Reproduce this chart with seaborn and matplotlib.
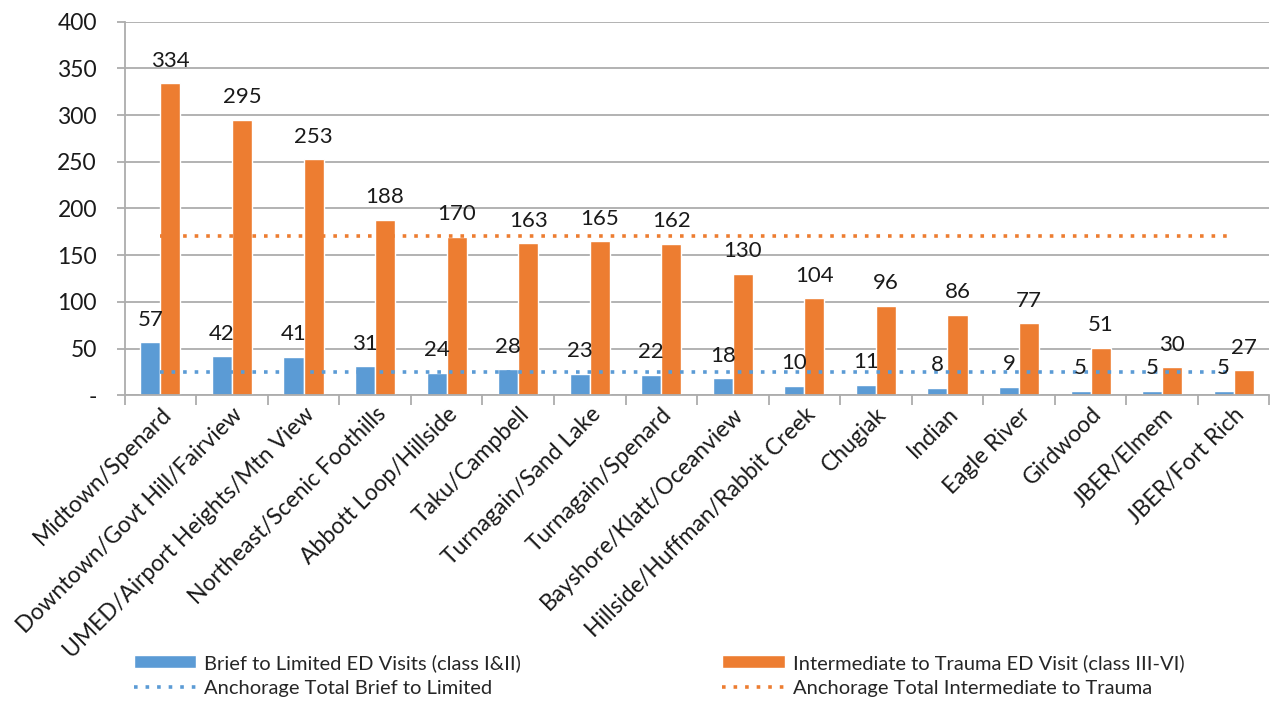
import numpy as np
import pandas as pd
import seaborn as sns
import matplotlib.pyplot as plt

regions = ['Midtown/Spenard', 'Downtown/Govt Hill/Fairview', 'UMED/Airport Heights/Mtn View',
           'Northeast/Scenic Foothills', 'Abbott Loop/Hillside', 'Taku/Campbell',
           'Turnagain/Sand Lake', 'Turnagain/Spenard', 'Bayshore/Klatt/Oceanview',
           'Hillside/Huffman/Rabbit Creek', 'Chugiak', 'Indian', 'Eagle River',
           'Girdwood', 'JBER/Elmem', 'JBER/Fort Rich']
brief = [57, 42, 41, 31, 24, 28, 23, 22, 18, 10, 11, 8, 9, 5, 5, 5]
inter = [334, 295, 253, 188, 170, 163, 165, 162, 130, 104, 96, 86, 77, 51, 30, 27]
anch_brief = 25
anch_inter = 171

s_brief = 'Brief to Limited ED Visits (class I&II)'
s_inter = 'Intermediate to Trauma ED Visit (class III-VI)'
l_brief = 'Anchorage Total Brief to Limited'
l_inter = 'Anchorage Total Intermediate to Trauma'

blue = '#5B9BD5'
orange = '#ED7D31'

df = pd.DataFrame({
    'region': regions * 2,
    'visits': brief + inter,
    'series': [s_brief] * len(regions) + [s_inter] * len(regions),
})

sns.set_style('white')
plt.rcParams['font.family'] = ['Lato', 'DejaVu Sans']

fig = plt.figure(figsize=(12.72, 7.02), dpi=100)
ax = fig.add_axes([0.098, 0.437, 0.9, 0.532])

sns.barplot(data=df, x='region', y='visits', hue='series', order=regions,
            palette=[blue, orange], saturation=1, width=0.56, ax=ax)

for cont, vals in zip(ax.containers, [brief, inter]):
    ax.bar_label(cont, labels=[str(v) for v in vals], padding=9,
                 fontsize=16, color='#1a1a1a')

sns.lineplot(x=regions, y=[anch_brief] * len(regions), sort=False, color=blue,
             linestyle=(0, (1, 2.2)), linewidth=2.6, label=l_brief, ax=ax)
sns.lineplot(x=regions, y=[anch_inter] * len(regions), sort=False, color=orange,
             linestyle=(0, (1, 2.2)), linewidth=2.6, label=l_inter, ax=ax)

ax.set_ylim(0, 400)
ax.set_xlim(-0.5, len(regions) - 0.5)
ax.set_yticks(range(0, 401, 50))
ax.set_yticklabels(['-'] + [str(v) for v in range(50, 401, 50)])
ax.yaxis.grid(True, color='#ADADAD', linewidth=1.3)
ax.set_axisbelow(True)
ax.set_xlabel('')
ax.set_ylabel('')

for side in ['top', 'right']:
    ax.spines[side].set_visible(False)
for side in ['left', 'bottom']:
    ax.spines[side].set_color('#ADADAD')
    ax.spines[side].set_linewidth(1.3)

ax.tick_params(axis='y', length=6, width=1.3, color='#ADADAD', pad=14,
               labelsize=16.5, labelcolor='#1a1a1a', left=True)
ax.set_xticks(np.arange(len(regions) + 1) - 0.5, minor=True)
ax.tick_params(axis='x', which='minor', length=7, width=1.3, color='#ADADAD', bottom=True)
ax.tick_params(axis='x', which='major', length=0, pad=6, labelsize=16.5, labelcolor='#1a1a1a')
plt.setp(ax.get_xticklabels(), rotation=45, ha='right', rotation_mode='anchor')

handles, labels = ax.get_legend_handles_labels()
hmap = dict(zip(labels, handles))
ax.legend_.remove()
fig.legend([hmap[s_brief], hmap[l_brief], hmap[s_inter], hmap[l_inter]],
           [s_brief, l_brief, s_inter, l_inter],
           ncol=2, loc='center left', bbox_to_anchor=(0.105, 0.038),
           frameon=False, fontsize=14.5, handlelength=3.1, handleheight=0.6,
           handletextpad=0.4, columnspacing=10.0, labelspacing=0.38,
           borderpad=0, borderaxespad=0)

fig.savefig('out.png', dpi=100)
